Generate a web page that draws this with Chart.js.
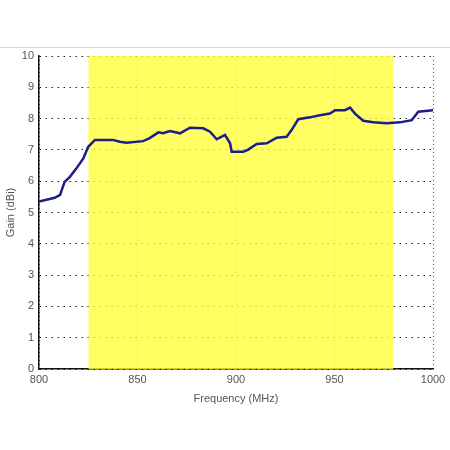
<!DOCTYPE html>
<html>
<head>
<meta charset="utf-8">
<script src="https://cdn.jsdelivr.net/npm/chart.js@4"></script>
<style>
  html, body { margin: 0; padding: 0; background: #fff; }
  #wrap { position: relative; width: 450px; height: 450px; }
  #rule { position: absolute; left: 0; top: 47px; width: 450px; height: 0; border-top: 1px solid #d8d8d8; }
  canvas { position: absolute; left: 0; top: 0; }
</style>
</head>
<body>
<div id="wrap">
  <div id="rule"></div>
  <canvas id="chart-area" width="450" height="450"></canvas>
</div>
<script>
  // measured gain curve
  var freqs = [800, 808, 810.7, 813, 815.7, 819, 822.5, 825, 828.4, 837.6, 841, 844.5, 852.8, 856, 860.6, 863,
    866.5, 871.6, 876.6, 883.4, 886.8, 890.2, 894.4, 897, 897.8, 903.7, 906, 910.5, 915.6, 920.7, 925.7, 928.3,
    931.6, 937.6, 942.6, 947.7, 950.3, 955.3, 957.9, 960.4, 964.6, 969.7, 976.5, 983.2, 989.2, 992.5, 1000];
  var gains = [5.35, 5.47, 5.56, 5.98, 6.14, 6.41, 6.73, 7.1, 7.32, 7.32, 7.26, 7.23, 7.28, 7.37, 7.56, 7.53,
    7.6, 7.53, 7.71, 7.69, 7.58, 7.34, 7.48, 7.21, 6.94, 6.94, 7.0, 7.19, 7.21, 7.39, 7.42, 7.64,
    7.98, 8.04, 8.11, 8.16, 8.27, 8.27, 8.35, 8.16, 7.93, 7.88, 7.85, 7.88, 7.95, 8.22, 8.27];

  // highlighted band
  var bandFreqs = [825, 980];
  var bandTop = 10;

  var xTicks = [800, 850, 900, 950, 1000];
  var yTicks = [0, 1, 2, 3, 4, 5, 6, 7, 8, 9, 10];

  var curve = freqs.map(function (f, i) { return {x: f, y: gains[i]}; });
  var band = bandFreqs.map(function (f) { return {x: f, y: bandTop}; });

  var tickFont = {family: 'Liberation Sans, Arial, sans-serif', size: 11};

  var ctx = document.getElementById('chart-area').getContext('2d');
  window.gainChart = new Chart(ctx, {
    type: 'line',
    data: {
      datasets: [
        {
          data: curve,
          borderColor: '#1c1c8a',
          borderWidth: 2.5,
          pointRadius: 0,
          tension: 0,
          fill: false,
          order: 0
        },
        {
          data: band,
          borderWidth: 0,
          borderColor: 'rgba(0,0,0,0)',
          backgroundColor: 'rgba(255,255,60,0.8)',
          pointRadius: 0,
          fill: 'origin',
          order: 1
        }
      ]
    },
    options: {
      responsive: false,
      animation: false,
      layout: {padding: {left: 0, top: 56, right: 17, bottom: 40}},
      plugins: {legend: {display: false}, tooltip: {enabled: false}},
      scales: {
        x: {
          type: 'linear',
          min: 800,
          max: 1000,
          afterBuildTicks: function (scale) {
            scale.ticks = xTicks.map(function (v) { return {value: v}; });
          },
          afterFit: function (scale) { scale.height = 41; },
          grid: {color: '#555', lineWidth: 1, drawTicks: false},
          border: {display: true, color: '#111', width: 1.5, dash: [1, 3]},
          ticks: {
            color: '#555', font: tickFont, padding: 4, maxRotation: 0,
            callback: function (v) { return String(v); }
          },
          title: {display: true, text: 'Frequency (MHz)', color: '#555', font: tickFont, padding: {top: 2}}
        },
        y: {
          min: 0,
          max: 10,
          afterBuildTicks: function (scale) {
            scale.ticks = yTicks.map(function (v) { return {value: v}; });
          },
          afterFit: function (scale) { scale.width = 39; },
          grid: {color: '#222', lineWidth: 1, drawTicks: false},
          border: {display: true, color: '#111', width: 1.5, dash: [1.5, 4.5]},
          ticks: {color: '#555', font: tickFont, padding: 5},
          title: {display: true, text: 'Gain (dBi)', color: '#555', font: tickFont, padding: {left: 2}}
        }
      }
    }
  });
</script>
</body>
</html>
